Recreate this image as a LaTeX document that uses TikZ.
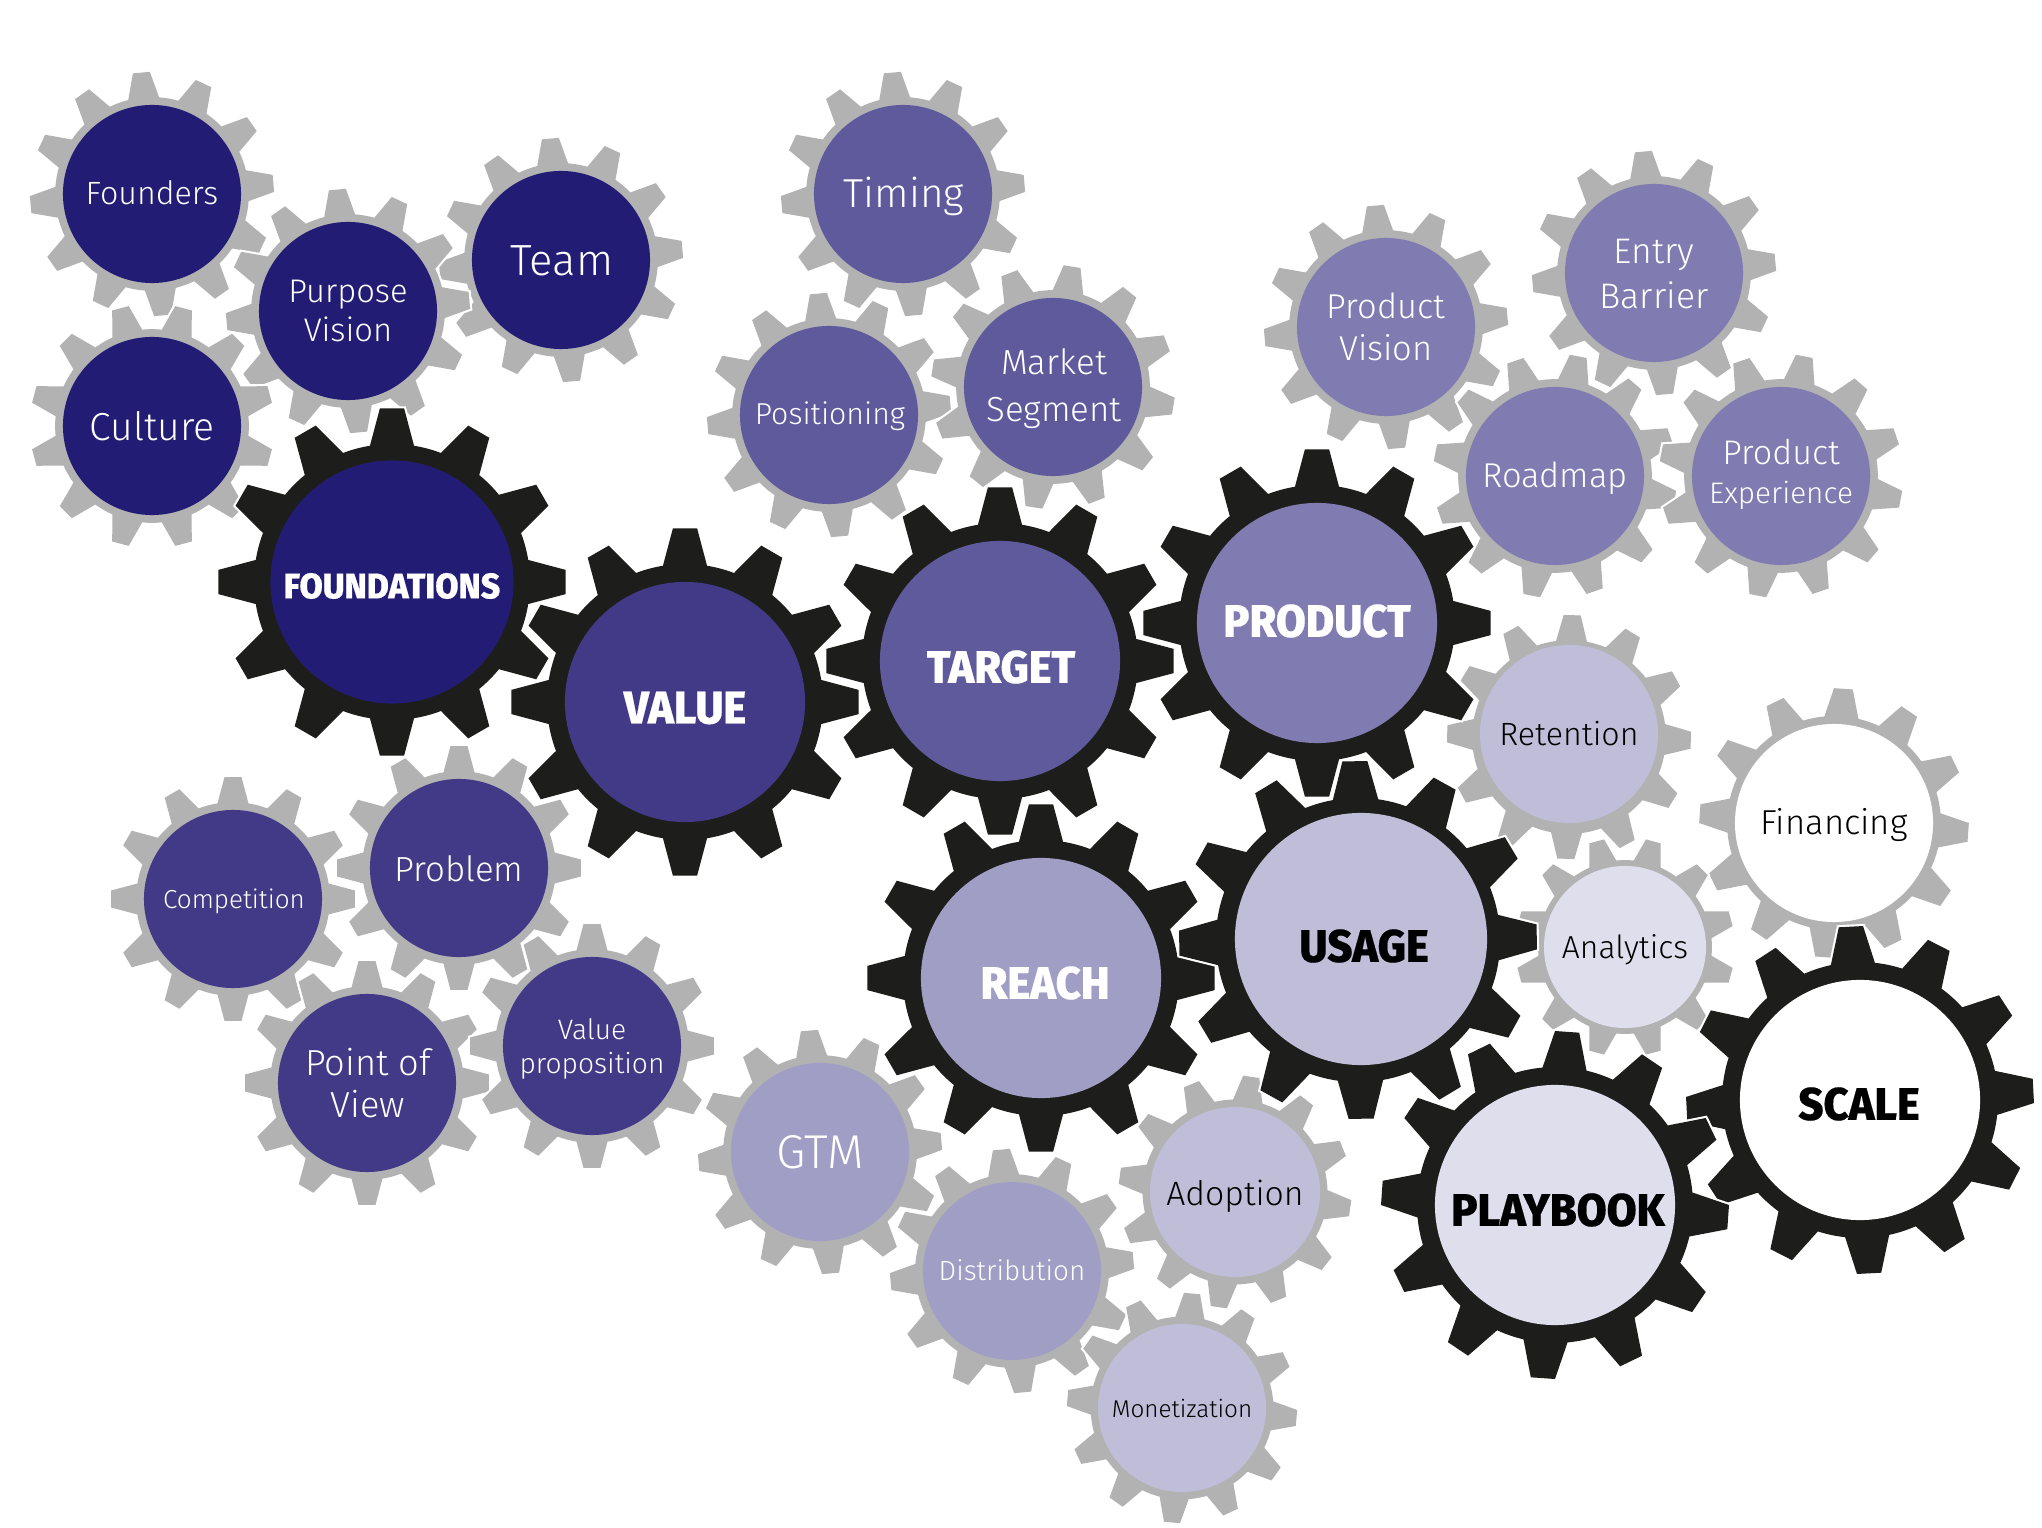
\documentclass[tikz,border=0pt]{standalone}
\usepackage{fontspec}
\setmainfont[UprightFont=* Light,BoldFont=* ExtraBold,BoldFeatures={FakeStretch=0.95,FakeBold=0.4}]{Fira Sans}
\usetikzlibrary{positioning}

\definecolor{navya}{HTML}{221C74}
\definecolor{navyb}{HTML}{433A87}
\definecolor{navyc}{HTML}{5F5A9C}
\definecolor{navyd}{HTML}{807BB0}
\definecolor{navye}{HTML}{A09EC5}
\definecolor{navyf}{HTML}{BFBDD8}
\definecolor{navyg}{HTML}{DFDEEC}
\definecolor{cogdark}{HTML}{1D1D1B}
\definecolor{coggrey}{HTML}{B2B2B2}

\newcommand{\fs}[1]{\fontsize{#1pt}{\fpeval{#1*1.2}pt}\selectfont}
\tikzset{
  bigcog/.style={fill=cogdark,preaction={draw=white,line width=1.2pt}},
  smallcog/.style={fill=coggrey,preaction={draw=white,line width=1.2pt}},
  bighub/.style={circle,inner sep=0pt,minimum size=2.4cm},
  smallhub/.style={circle,inner sep=0pt,minimum size=1.78cm},
  hubtext/.style={inner sep=0pt,align=center,text=white},
  bigtext/.style={hubtext,font=\bfseries\fs{13}},
}
% one cog: centre, rotation, scale, style
\newcommand{\cog}[4]{
  \path[shift={(#1)},rotate=#2,scale=#3,#4] (-9.2:138)
    \foreach \a in {0,30,...,330} {
      -- (\a-9.2:138) -- (\a-4:174) -- (\a+4:174) -- (\a+9.2:138)
      arc[start angle=\a+9.2,end angle=\a+20.8,radius=138]
    } -- cycle;
}

\begin{document}
\begin{tikzpicture}[x=0.01cm,y=0.01cm]
\useasboundingbox (0,0) rectangle (2042,-1528);

\cog{561,-260}{5}{.702}{smallcog}
\cog{152,-194}{5}{.702}{smallcog}
\cog{348,-311}{5}{.702}{smallcog}
\cog{152,-426}{15}{.702}{smallcog}
\cog{903,-194}{5}{.702}{smallcog}
\cog{829,-415}{5}{.702}{smallcog}
\cog{1053,-387}{-9}{.702}{smallcog}
\cog{1386,-327}{5}{.702}{smallcog}
\cog{1654,-273}{5}{.702}{smallcog}
\cog{1555,-476}{19}{.702}{smallcog}
\cog{1781,-476}{19}{.702}{smallcog}
\cog{1569,-737}{-1.5}{.702}{smallcog}
\cog{1834,-823}{-4}{.775}{smallcog}
\cog{1625,-947}{15}{.63}{smallcog}
\cog{233,-899}{0}{.702}{smallcog}
\cog{459,-868}{0}{.702}{smallcog}
\cog{367,-1083}{0}{.702}{smallcog}
\cog{592,-1046}{0}{.702}{smallcog}
\cog{820,-1152}{5}{.702}{smallcog}
\cog{1012,-1271}{5}{.702}{smallcog}
\cog{1235,-1192}{-8}{.67}{smallcog}
\cog{1182,-1408}{-5}{.662}{smallcog}

\cog{392,-582}{0}{1}{bigcog}
\cog{685,-702}{0}{1}{bigcog}
\cog{1000,-661}{0}{1}{bigcog}
\cog{1317,-623}{0}{1}{bigcog}
\cog{1041,-978}{0}{1}{bigcog}
\cog{1358,-940}{1}{1.03}{bigcog}
\cog{1860,-1100}{3}{1}{bigcog}
\cog{1555,-1205}{-4}{1}{bigcog}

\node[smallhub,fill=navya] (founders) at (152,-194) {};
\node[smallhub,fill=navya] (culture) at (152,-426) {};
\node[smallhub,fill=navya] (purpose) at (348,-311) {};
\node[smallhub,fill=navya] (team) at (561,-260) {};
\node[smallhub,fill=navyc] (timing) at (903,-194) {};
\node[smallhub,fill=navyc] (positioning) at (829,-415) {};
\node[smallhub,fill=navyc] (market) at (1053,-387) {};
\node[smallhub,fill=navyd] (pvision) at (1386,-327) {};
\node[smallhub,fill=navyd] (entry) at (1654,-273) {};
\node[smallhub,fill=navyd] (roadmap) at (1555,-476) {};
\node[smallhub,fill=navyd] (pexp) at (1781,-476) {};
\node[smallhub,fill=navyf] (retention) at (1569,-734) {};
\node[smallhub,fill=white,minimum size=1.98cm] (financing) at (1834,-823) {};
\node[smallhub,fill=navyg,minimum size=1.62cm] (analytics) at (1625,-947) {};
\node[smallhub,fill=navyb] (competition) at (233,-899) {};
\node[smallhub,fill=navyb] (problem) at (459,-868) {};
\node[smallhub,fill=navyb] (pov) at (367,-1083) {};
\node[smallhub,fill=navyb] (vprop) at (592,-1046) {};
\node[smallhub,fill=navye] (gtm) at (820,-1152) {};
\node[smallhub,fill=navye] (distribution) at (1012,-1271) {};
\node[smallhub,fill=navyf,minimum size=1.7cm] (adoption) at (1235,-1192) {};
\node[smallhub,fill=navyf,minimum size=1.68cm] (monetization) at (1182,-1408) {};

\node[bighub,fill=navya,minimum size=2.43cm] (foundations) at (392,-582) {};
\node[bighub,fill=navyb] (value) at (685,-702) {};
\node[bighub,fill=navyc] (target) at (1000,-661) {};
\node[bighub,fill=navyd] (product) at (1317,-623) {};
\node[bighub,fill=navye] (reach) at (1041,-978) {};
\node[bighub,fill=navyf,minimum size=2.52cm] (usage) at (1361,-939) {};
\node[bighub,fill=navyg] (playbook) at (1555,-1205) {};
\node[bighub,fill=white] (scale) at (1860,-1100) {};

\node[hubtext,font=\fs{9.15}] (founderstext) at (152,-193) {Founders};
\node[hubtext,font=\fs{11.1}] (culturetext) at (152,-426) {Culture};
\node[hubtext,font=\fs{9.3}] (purposetext) at (348,-311) {Purpose\\[-.3pt]Vision};
\node[hubtext,font=\fs{12.4}] (teamtext) at (562,-261) {Team};
\node[hubtext,font=\fs{11.5}] (timingtext) at (904,-196) {Timing};
\node[hubtext,font=\fs{8.6}] (positioningtext) at (830,-416) {Positioning};
\node[hubtext,font=\fs{9.9}] (markettext) at (1054,-389) {Market\\[1.5pt]Segment};
\node[hubtext,font=\fs{9.8}] (pvisiontext) at (1386,-327) {Product\\Vision};
\node[hubtext,font=\fs{10.1}] (entrytext) at (1654,-274) {Entry\\[.7pt]Barrier};
\node[hubtext,font=\fs{9.8}] (roadmaptext) at (1555,-478) {Roadmap};
\node[hubtext,font=\fs{9.7}] (pexptext) at (1781,-474) {Product\\[-.6pt]{\fs{8.45}Experience}};
\node[hubtext,text=black,font=\fs{9.15}] (retentiontext) at (1569,-734) {Retention};
\node[hubtext,text=black,font=\fs{9.85}] (financingtext) at (1834,-825) {Financing};
\node[hubtext,text=black,font=\fs{9.05}] (analyticstext) at (1625,-950) {Analytics};
\node[hubtext,font=\fs{7.4}] (competitiontext) at (234,-901) {Competition};
\node[hubtext,font=\fs{9.9}] (problemtext) at (459,-869) {Problem};
\node[hubtext,font=\fs{10.3}] (povtext) at (368,-1083) {Point of\\[-.3pt]View};
\node[hubtext,font=\fs{8}] (vproptext) at (592,-1049) {Value\\proposition};
\node[hubtext,font=\fs{13.5}] (gtmtext) at (820,-1152) {GTM};
\node[hubtext,font=\fs{7.9}] (distributiontext) at (1012,-1270) {Distribution};
\node[hubtext,text=black,font=\fs{9.6}] (adoptiontext) at (1235,-1196) {Adoption};
\node[hubtext,text=black,font=\fs{6.9}] (monetizationtext) at (1182,-1408) {Monetization};

\node[bigtext,font=\bfseries\fs{10.1}] (foundationstext) at (392,-586) {FOUNDATIONS};
\node[bigtext] (valuetext) at (685,-708) {VALUE};
\node[bigtext] (targettext) at (1001,-667) {TARGET};
\node[bigtext] (producttext) at (1317,-621) {PRODUCT};
\node[bigtext] (reachtext) at (1045,-983) {REACH};
\node[bigtext,text=black] (usagetext) at (1364,-946) {USAGE};
\node[bigtext,text=black] (playbooktext) at (1558,-1210) {PLAYBOOK};
\node[bigtext,text=black] (scaletext) at (1859,-1104) {SCALE};
\end{tikzpicture}
\end{document}
